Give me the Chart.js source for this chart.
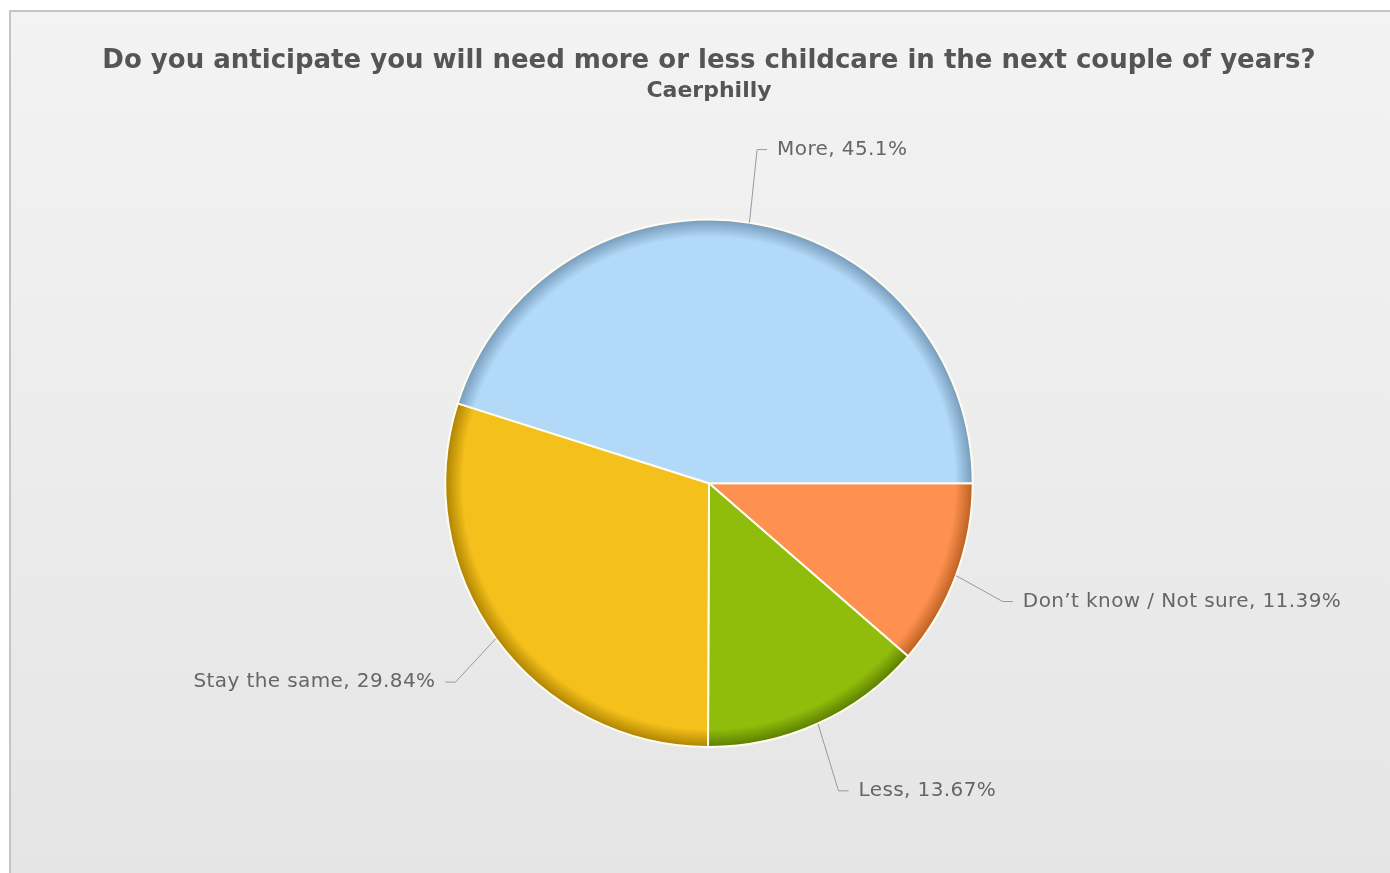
<!DOCTYPE html>
<html>
<head>
<meta charset="utf-8">
<script src="https://cdn.jsdelivr.net/npm/chart.js@4"></script>
<style>
  html, body { margin: 0; padding: 0; background: #fff; overflow: hidden; }
  #frame {
    position: absolute; left: 9px; top: 10px; width: 1381px; height: 863px;
    border-left: 2px solid #c4c4c4; border-top: 2px solid #c4c4c4;
    background: linear-gradient(#f3f3f3, #e5e5e5);
    overflow: hidden;
  }
  #pie { position: absolute; left: 0; top: 0; }
</style>
</head>
<body>
<div id="frame"><canvas id="pie" width="1396" height="861"></canvas></div>
<script>
// ── data ────────────────────────────────
const labels = ['Don’t know / Not sure', 'Less', 'Stay the same', 'More'];
const values = [11.39, 13.67, 29.84, 45.1];
const baseColors = ['#fe9150', '#90bc0b', '#f4c01b', '#b2d9f8'];
const rimColors  = ['#b85d1f', '#587a00', '#a97f00', '#7397b6'];

const TITLE    = 'Do you anticipate you will need more or less childcare in the next couple of years?';
const SUBTITLE = 'Caerphilly';

// slice fill: flat colour with a darker rim at the edge
function sliceFill(c) {
  const chart = c.chart;
  const area = chart.chartArea;
  const i = c.dataIndex;
  if (!area) return baseColors[i];
  const cx = (area.left + area.right) / 2;
  const cy = (area.top + area.bottom) / 2;
  const r  = Math.min(area.right - area.left, area.bottom - area.top) / 2;
  const g = chart.ctx.createRadialGradient(cx, cy, 0, cx, cy, r);
  g.addColorStop(0, baseColors[i]);
  g.addColorStop(0.93, baseColors[i]);
  g.addColorStop(1, rimColors[i]);
  return g;
}

// outside labels with elbow connectors
const outsideLabels = {
  id: 'outsideLabels',
  afterDatasetsDraw(chart) {
    const ctx = chart.ctx;
    const meta = chart.getDatasetMeta(0);
    ctx.save();
    ctx.font = '20px "DejaVu Sans"';
    ctx.letterSpacing = '0.4px';
    ctx.fillStyle = '#666';
    ctx.strokeStyle = '#999';
    ctx.lineWidth = 1;
    ctx.textBaseline = 'middle';
    meta.data.forEach((arc, i) => {
      const p = arc.getProps(['x', 'y', 'startAngle', 'endAngle', 'outerRadius'], true);
      const mid = (p.startAngle + p.endAngle) / 2;
      const cos = Math.cos(mid), sin = Math.sin(mid);
      const x0 = p.x + cos * p.outerRadius, y0 = p.y + sin * p.outerRadius;
      const x1 = p.x + cos * (p.outerRadius + 50), y1 = p.y + sin * (p.outerRadius + 74);
      const dir = cos >= 0 ? 1 : -1;
      const x2 = x1 + dir * 10;
      ctx.beginPath();
      ctx.moveTo(x0, y0);
      ctx.lineTo(x1, y1);
      ctx.lineTo(x2, y1);
      ctx.stroke();
      ctx.textAlign = dir > 0 ? 'left' : 'right';
      ctx.fillText(labels[i] + ', ' + values[i] + '%', x2 + dir * 10, y1);
    });
    ctx.restore();
  }
};

new Chart(document.getElementById('pie').getContext('2d'), {
  type: 'pie',
  data: {
    labels,
    datasets: [{
      data: values,
      backgroundColor: sliceFill,
      borderColor: '#fffdf0',
      borderWidth: 2
    }]
  },
  options: {
    responsive: false,
    animation: false,
    rotation: 90,
    layout: { padding: { top: 0, bottom: 125, left: 0, right: 0 } },
    plugins: {
      legend: { display: false },
      tooltip: { enabled: false },
      title: {
        display: true, text: TITLE, color: '#555',
        font: { family: 'DejaVu Sans', size: 26, weight: 'bold' },
        padding: { top: 34, bottom: 0 }
      },
      subtitle: {
        display: true, text: SUBTITLE, color: '#555',
        font: { family: 'DejaVu Sans', size: 22, weight: 'bold' },
        padding: { top: 1, bottom: 114 }
      }
    }
  },
  plugins: [outsideLabels]
});
</script>
</body>
</html>
